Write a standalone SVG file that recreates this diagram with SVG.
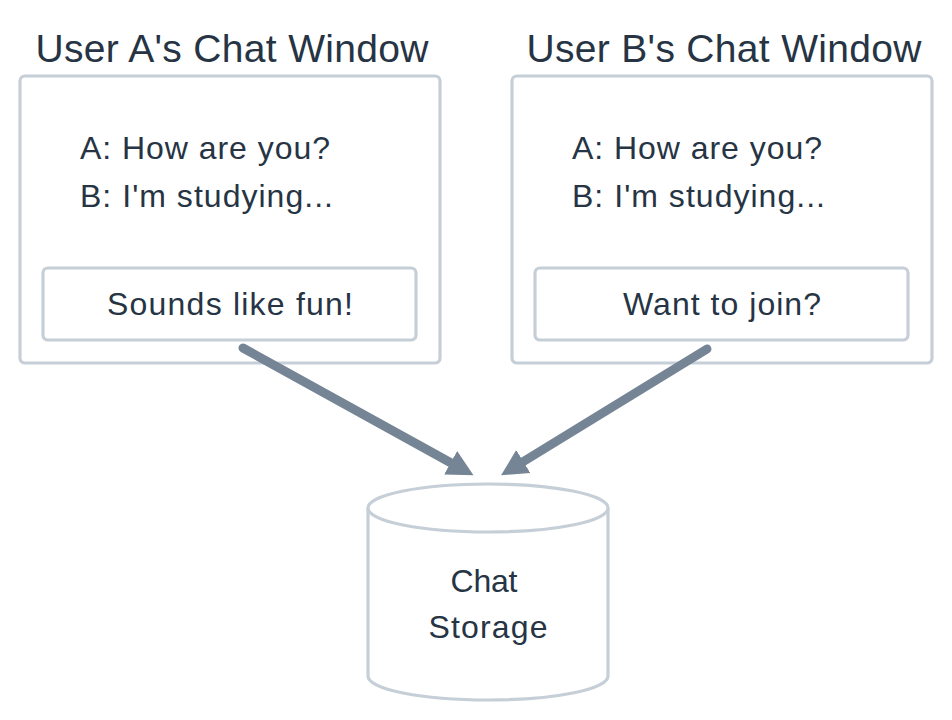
<svg xmlns="http://www.w3.org/2000/svg" width="952" height="720" viewBox="0 0 952 720">
  <style>
    .frame { fill: #ffffff; stroke: #c6cfd7; stroke-width: 3.2; }
    .title { font-family: "Liberation Sans", Arial, sans-serif; font-size: 39px; fill: #263444; }
    .body { font-family: "Liberation Sans", Arial, sans-serif; font-size: 32px; fill: #263444; }
    .arrow { stroke: #758595; stroke-width: 9; stroke-linecap: round; fill: none; marker-end: url(#head); }
  </style>
  <defs>
    <marker id="head" markerUnits="strokeWidth" viewBox="0 -1.6 3 3.2" refX="0.3" refY="0" markerWidth="3" markerHeight="3.2" orient="auto">
      <path d="M0,-1.5 L2.9,0 L0,1.5 Z" fill="#758595"/>
    </marker>
  </defs>
  <rect width="952" height="720" fill="#ffffff"/>

  <g id="windowA">
    <text class="title" x="232" y="62" text-anchor="middle" textLength="393">User A's Chat Window</text>
    <rect class="frame" x="20" y="76" width="420" height="287" rx="5"/>
    <text class="body" x="80" y="159" textLength="250">A: How are you?</text>
    <text class="body" x="80" y="207" textLength="253">B: I'm studying...</text>
    <rect class="frame" x="43" y="268" width="373" height="72" rx="5"/>
    <text class="body" x="230" y="315" text-anchor="middle" textLength="246">Sounds like fun!</text>
  </g>

  <g id="windowB">
    <text class="title" x="724" y="62" text-anchor="middle" textLength="395">User B's Chat Window</text>
    <rect class="frame" x="512" y="76" width="420" height="287" rx="5"/>
    <text class="body" x="572" y="159" textLength="250">A: How are you?</text>
    <text class="body" x="572" y="207" textLength="253">B: I'm studying...</text>
    <rect class="frame" x="535" y="268" width="373" height="72" rx="5"/>
    <text class="body" x="722" y="315" text-anchor="middle" textLength="198">Want to join?</text>
  </g>

  <g id="storage">
    <path class="frame" d="M368,508 L368,676 A120,24 0 0 0 608,676 L608,508"/>
    <ellipse class="frame" cx="488" cy="508" rx="120" ry="24"/>
    <text class="body" x="484" y="592" text-anchor="middle" textLength="67">Chat</text>
    <text class="body" x="488" y="638" text-anchor="middle" textLength="119">Storage</text>
  </g>

  <g id="connectors">
    <line class="arrow" x1="243" y1="348" x2="453" y2="464"/>
    <line class="arrow" x1="707" y1="349" x2="521" y2="463"/>
  </g>
</svg>
